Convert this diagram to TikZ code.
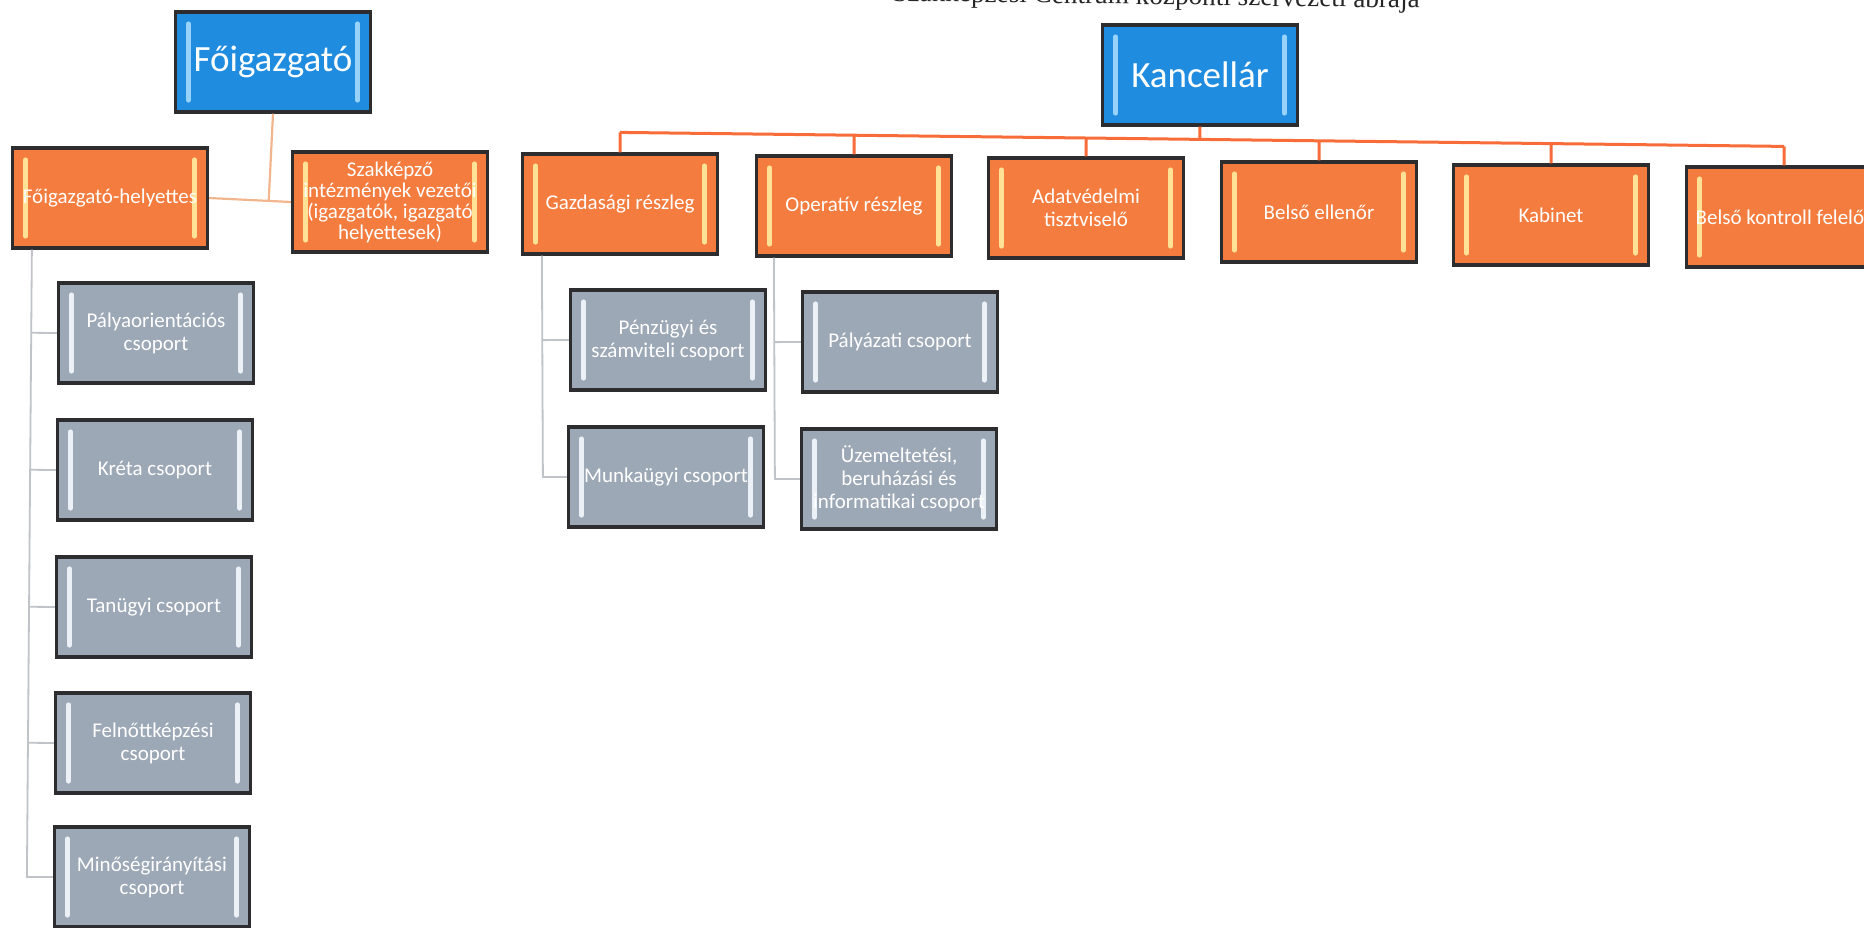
\documentclass[tikz,border=0pt]{standalone}
\usepackage{fontspec}
\setmainfont{Carlito}
\newfontfamily\titlefont{Liberation Serif}
\usetikzlibrary{calc}
\definecolor{orfill}{RGB}{244,124,62}
\definecolor{orbar}{RGB}{255,226,150}
\definecolor{blfill}{RGB}{32,140,224}
\definecolor{blbar}{RGB}{150,210,250}
\definecolor{grfill}{RGB}{156,168,182}
\definecolor{grbar}{RGB}{236,241,247}
\definecolor{edge}{RGB}{45,45,48}
\definecolor{peach}{RGB}{242,182,142}
\definecolor{orline}{RGB}{248,108,58}
\definecolor{grline}{RGB}{192,195,199}
\tikzset{
  bars/.style={path picture={
    \draw[#1, line width=2.6pt, line cap=round]
      ([xshift=6.5pt,yshift=-6pt]path picture bounding box.north west) --
      ([xshift=6.5pt,yshift=6pt]path picture bounding box.south west)
      ([xshift=-6.5pt,yshift=-6pt]path picture bounding box.north east) --
      ([xshift=-6.5pt,yshift=6pt]path picture bounding box.south east);
  }},
  boxbase/.style={draw=edge, line width=1.6pt, minimum width=97.5pt, minimum height=50pt,
    inner sep=0pt, text=white, align=center, font=\fontsize{10.5}{11.5}\selectfont},
  bluebox/.style={boxbase, fill=blfill, bars=blbar, font=\fontsize{18.5}{20}\selectfont},
  orbox/.style={boxbase, fill=orfill, bars=orbar},
  grbox/.style={boxbase, fill=grfill, bars=grbar},
  peachline/.style={draw=peach, line width=1.1pt},
  orangeline/.style={draw=orline, line width=1.5pt},
  grayline/.style={draw=grline, line width=0.9pt},
  titletext/.style={font=\titlefont\fontsize{13.6}{13.6}\selectfont, text=black!85, inner sep=0pt}
}
\begin{document}
\begin{tikzpicture}[x=0.5pt,y=-0.5pt]
\clip (0,0) rectangle (1864,927);
\fill[white] (0,0) rectangle (1864,927);

% title (cut off by the top edge)
\node[titletext, anchor=base east, rotate=-0.75] (title) at (1420,8) {Szakképzési Centrum központi szervezeti ábrája};

% top level
\node[bluebox] (fo) at (273,62) {Főigazgató};
\node[bluebox] (ka) at (1200,75) {Kancellár};

% Főigazgató branch
\node[orbox] (fh) at (110,198) {Főigazgató-helyettes};
\node[orbox, font=\fontsize{10.5}{10.5}\selectfont] (sz) at (390,202) {Szakképző\\intézmények vezetői\\(igazgatók, igazgató\\helyettesek)};

\node[grbox] (p1) at (156,333) {Pályaorientációs\\csoport};
\node[grbox] (p2) at (155,470) {Kréta csoport};
\node[grbox] (p3) at (154,607) {Tanügyi csoport};
\node[grbox] (p4) at (153,743) {Felnőttképzési\\csoport};
\node[grbox] (p5) at (152,877) {Minőségirányítási\\csoport};

% Kancellár branch
\node[orbox] (gz) at (620,204) {Gazdasági részleg};
\node[orbox] (op) at (854,206) {Operatív részleg};
\node[orbox] (ad) at (1086,208) {Adatvédelmi\\tisztviselő};
\node[orbox] (be) at (1319,212) {Belső ellenőr};
\node[orbox] (kb) at (1551,215) {Kabinet};
\node[orbox] (bk) at (1784,217) {Belső kontroll felelős};

\node[grbox] (pe) at (668,340) {Pénzügyi és\\számviteli csoport};
\node[grbox] (mu) at (666,477) {Munkaügyi csoport};
\node[grbox] (pa) at (900,342) {Pályázati csoport};
\node[grbox] (uz) at (899,479) {Üzemeltetési,\\beruházási és\\informatikai csoport};

% connectors: Főigazgató
\coordinate (fj) at ($(fh.east)!(fo.south)!(sz.west)$);
\draw[peachline] (fh.east) -- (sz.west);
\draw[peachline] (fo.south) -- (fj);

% connectors: Kancellár bus
\coordinate (busL) at ($(gz.north)+(0,-20)$);
\coordinate (busR) at ($(bk.north)+(0,-19)$);
\draw[orangeline] (busL) -- (busR);
\draw[orangeline] (ka.south) -- ($(busL)!(ka.south)!(busR)$);
\foreach \b in {gz,op,ad,be,kb,bk}{
  \draw[orangeline] ($(busL)!(\b.north)!(busR)$) -- (\b.north);
}

% connectors: Főigazgató-helyettes groups
\coordinate (lt) at ($(fh.south west)+(21,0)$);
\coordinate (lb) at ($(p5.west)+(-26,0)$);
\draw[grayline] (lt) -- (lb) -- (p5.west);
\foreach \b in {p1,p2,p3,p4}{
  \draw[grayline] ($(lt)!(\b.west)!(lb)$) -- (\b.west);
}

% connectors: Gazdasági részleg groups
\coordinate (gt) at ($(gz.south west)+(21,0)$);
\coordinate (gb) at ($(mu.west)+(-24,0)$);
\draw[grayline] (gt) -- (gb) -- (mu.west);
\draw[grayline] ($(gt)!(pe.west)!(gb)$) -- (pe.west);

% connectors: Operatív részleg groups
\coordinate (ot) at ($(op.south west)+(19,0)$);
\coordinate (ob) at ($(uz.west)+(-25,0)$);
\draw[grayline] (ot) -- (ob) -- (uz.west);
\draw[grayline] ($(ot)!(pa.west)!(ob)$) -- (pa.west);
\end{tikzpicture}
\end{document}
